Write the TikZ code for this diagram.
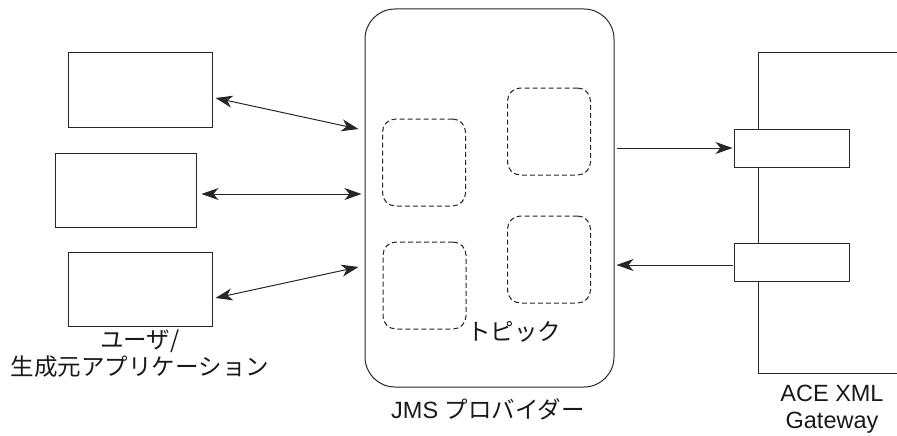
\documentclass[tikz,border=0pt]{standalone}
\usepackage{fontspec}
\setmainfont{Liberation Sans}
\newfontfamily\jp{Noto Sans CJK JP}
\usetikzlibrary{arrows.meta}

\begin{document}
\begin{tikzpicture}[x=1pt, y=-1pt, line width=1pt, draw=black!85,
        every node/.style={font=\fontsize{23.5}{27}\selectfont, text=black!90},
        appbox/.style={shape=rectangle, draw, minimum width=144pt, minimum height=74pt},
        topicbox/.style={shape=rectangle, draw, rounded corners=13pt, dash pattern=on 5pt off 3pt, minimum width=83pt, minimum height=87pt},
        portbox/.style={shape=rectangle, draw, fill=white, minimum width=115pt, minimum height=38pt},
        tip/.style={-{Stealth[length=17pt, width=12pt, inset=5pt]}},
        twotip/.style={{Stealth[length=17pt, width=12pt, inset=5pt]}-{Stealth[length=17pt, width=12pt, inset=5pt]}}]
        	\useasboundingbox (0,0) rectangle (897,436);
        	% Applications on the left:
        	\node[appbox] (app1) at (140, 90){};
        	\node[appbox, minimum width=141pt] (app2) at (125.5, 190.5){};
        	\node[appbox] (app3) at (140, 289.5){};
        	\node[align=center] (applabel) at (140, 354){\jp ユーザ/\\\jp 生成元アプリケーション};
        	% JMS provider and its topics:
        	\node[shape=rectangle, draw, rounded corners=30pt, minimum width=249pt, minimum height=378pt] (jms) at (489.5, 198){};
        	\node[topicbox] (t1) at (424, 162.5){};
        	\node[topicbox] (t2) at (549, 131.5){};
        	\node[topicbox] (t3) at (424.5, 285.5){};
        	\node[topicbox] (t4) at (549, 259.5){};
        	\node (topiclabel) at (514, 332){\jp トピック};
        	\node (jmslabel) at (488, 409){JMS {\jp プロバイダー}};
        	% ACE XML Gateway with its two ports:
        	\draw (897, 53) -- (758, 53) -- (758, 373) -- (897, 373);
        	\node[portbox] (p1) at (791.5, 148){};
        	\node[portbox] (p2) at (791.5, 262){};
        	\node[align=center] (gwlabel) at (832, 409){ACE XML\\Gateway};
        	% Connections:
        	\draw[twotip] ([xshift=3pt, yshift=-8pt]app1.east) -- ([xshift=-6pt, yshift=69pt]jms.west);
        	\draw[twotip] ([xshift=5pt, yshift=-3.5pt]app2.east) -- ([xshift=-3pt, yshift=4pt]jms.west);
        	\draw[twotip] ([xshift=3pt, yshift=-8.5pt]app3.east) -- ([xshift=-6pt, yshift=-69pt]jms.west);
        	\draw[tip] ([xshift=2pt]jms.east |- p1.west) -- ([xshift=-1pt]p1.west);
        	\draw[tip] ([xshift=-1pt, yshift=-3pt]p2.west) -- ([xshift=2pt, yshift=-3pt]jms.east |- p2.west);
        \end{tikzpicture}
\end{document}
